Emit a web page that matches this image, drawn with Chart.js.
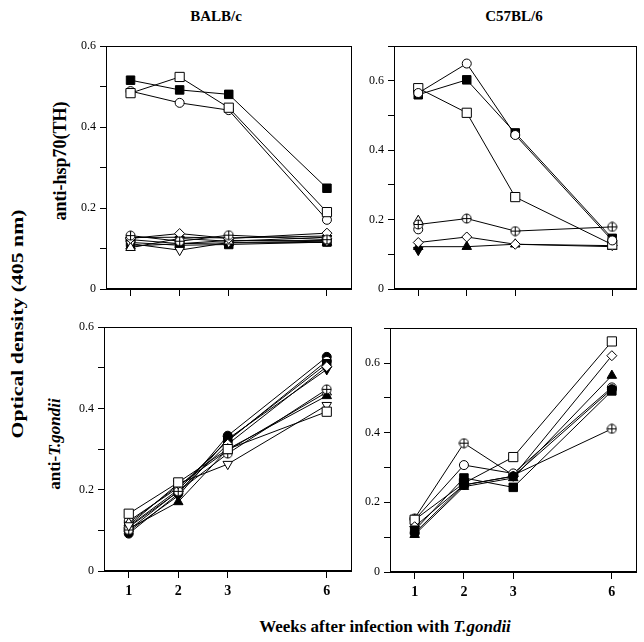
<!DOCTYPE html>
<html>
<head>
<meta charset="utf-8">
<script src="https://cdn.jsdelivr.net/npm/chart.js@4"></script>
<style>
body { margin:0; background:#fff; width:644px; height:642px; position:relative; overflow:hidden;
       font-family:"Liberation Serif","Times New Roman",serif; }
.lbl { position:absolute; font-weight:bold; white-space:nowrap; color:#000; }
.ctr { transform: translate(-50%,-50%); }
.rot { transform: translate(-50%,-50%) rotate(-90deg); }
canvas { position:absolute; }
</style>
</head>
<body>
<div class="lbl ctr" style="left:216px;top:16px;font-size:15px">BALB/c</div>
<div class="lbl ctr" style="left:514px;top:16px;font-size:15px">C57BL/6</div>
<div class="lbl rot" style="left:60px;top:161px;font-size:18px">anti-hsp70(TH)</div>
<div class="lbl rot" style="left:55px;top:444px;font-size:17px">anti-<i>T.gondii</i></div>
<div class="lbl" style="left:18px;top:324px;font-size:17px;transform:translate(-50%,-50%) rotate(-90deg) scaleX(1.28)">Optical density (405 nm)</div>
<div class="lbl ctr" style="left:385px;top:627px;font-size:17px">Weeks after infection with <i>T.gondii</i></div>
<script>
// weeks after infection (x axis); weeks 4-5 are not shown, so 6 sits one slot after 3
const weeks = [1, 2, 3, 6];

// BALB/c, anti-hsp70(TH)
const balbHspMarks = ['filledSquare', 'openSquare', 'openCircle', 'crossCircle', 'openDiamond',
    'openTriangle', 'invTriangle', 'filledSquare', 'filledCircle', 'filledTriangle', 'filledDiamond'];
const balbHspValues = [
    [0.516, 0.492, 0.481, 0.249],
    [0.484, 0.524, 0.448, 0.190],
    [0.489, 0.460, 0.442, 0.171],
    [0.132, 0.118, 0.133, 0.122],
    [0.125, 0.137, 0.125, 0.138],
    [0.102, 0.125, 0.118, 0.128],
    [0.112, 0.096, 0.115, 0.118],
    [0.115, 0.108, 0.110, 0.116],
    [0.122, 0.112, 0.120, 0.120],
    [0.106, 0.112, 0.114, 0.115],
    [0.127, 0.128, 0.126, 0.131]
];

// C57BL/6, anti-hsp70(TH)
const c57HspMarks = ['openCircle', 'filledSquare', 'openSquare', 'crossCircle', 'openDiamond',
    'filledTriangle', 'openTriangle', 'openCircle', 'filledInvTriangle'];
const c57HspValues = [
    [0.565, 0.650, 0.444, 0.140],
    [0.560, 0.603, 0.450, 0.146],
    [0.579, 0.508, 0.265, 0.128],
    [0.186, 0.203, 0.167, 0.179],
    [0.134, 0.150, 0.129, 0.125],
    [0.122, 0.122, 0.129, 0.122],
    [0.197, null, null, null],
    [0.172, null, null, null],
    [0.112, null, null, null]
];

// BALB/c, anti-T.gondii
const balbTgMarks = ['openSquare', 'invTriangle', 'crossCircle', 'filledTriangle', 'openTriangle',
    'openDiamond', 'filledInvTriangle', 'filledSquare', 'openCircle', 'filledCircle'];
const balbTgValues = [
    [0.141, 0.218, 0.300, 0.392],
    [0.112, 0.215, 0.263, 0.408],
    [0.101, 0.196, 0.289, 0.447],
    [0.104, 0.170, 0.300, 0.431],
    [0.118, 0.210, 0.297, 0.440],
    [0.108, 0.195, 0.312, 0.503],
    [0.098, 0.185, 0.325, 0.496],
    [0.110, 0.200, 0.322, 0.510],
    [0.123, 0.205, 0.320, 0.517],
    [0.092, 0.190, 0.333, 0.527]
];

// C57BL/6, anti-T.gondii
const c57TgMarks = ['filledCircle', 'filledSquare', 'filledTriangle', 'openDiamond', 'openSquare',
    'openCircle', 'crossCircle'];
const c57TgValues = [
    [0.112, 0.250, 0.275, 0.525],
    [0.120, 0.270, 0.243, 0.520],
    [0.107, 0.245, 0.270, 0.564],
    [0.130, 0.250, 0.275, 0.621],
    [0.150, 0.255, 0.330, 0.662],
    [0.150, 0.307, 0.283, 0.530],
    [0.154, 0.370, 0.278, 0.411]
];

const weekSlots = weeks.map(w => w <= 3 ? w : w - 1);

function crossCircle() {
    var c = document.createElement('canvas');
    c.width = c.height = 11;
    var g = c.getContext('2d');
    g.beginPath();
    g.arc(5.5, 5.5, 4.5, 0, 2 * Math.PI);
    g.fillStyle = '#fff';
    g.fill();
    g.strokeStyle = '#000';
    g.lineWidth = 1;
    g.stroke();
    g.beginPath();
    g.moveTo(5.5, 1); g.lineTo(5.5, 10);
    g.moveTo(1, 5.5); g.lineTo(10, 5.5);
    g.stroke();
    return c;
}

const markStyle = {
    filledSquare:      {style: 'rect', r: 6, fill: '#000'},
    openSquare:        {style: 'rect', r: 6.5, fill: '#fff'},
    openCircle:        {style: 'circle', r: 4.5, fill: '#fff'},
    filledCircle:      {style: 'circle', r: 4.5, fill: '#000'},
    openTriangle:      {style: 'triangle', r: 5.5, fill: '#fff'},
    filledTriangle:    {style: 'triangle', r: 5.5, fill: '#000'},
    invTriangle:       {style: 'triangle', r: 5.5, fill: '#fff', rot: 180},
    filledInvTriangle: {style: 'triangle', r: 5.5, fill: '#000', rot: 180},
    openDiamond:       {style: 'rectRot', r: 5, fill: '#fff'},
    filledDiamond:     {style: 'rectRot', r: 5, fill: '#000'},
    crossCircle:       {style: crossCircle(), r: 5, fill: '#fff'}
};

const framePlugin = {
    id: 'frame',
    afterDraw(chart) {
        var a = chart.chartArea, ctx = chart.ctx;
        ctx.save();
        ctx.strokeStyle = '#000';
        ctx.lineWidth = 1;
        ctx.strokeRect(Math.round(a.left) + 0.5, Math.round(a.top) + 0.5,
            Math.round(a.right - a.left) - 1, Math.round(a.bottom - a.top) - 1);
        ctx.restore();
    }
};

function makePanel(rect, yMax, showWeeks, marks, values) {
    var padL = 50, padT = 10, padR = 6, padB = 34;
    var cv = document.createElement('canvas');
    cv.width = rect.r - rect.l + padL + padR;
    cv.height = rect.b - rect.t + padT + padB;
    cv.style.left = (rect.l - padL) + 'px';
    cv.style.top = (rect.t - padT) + 'px';
    document.body.appendChild(cv);

    var datasets = marks.map(function(m, i) {
        var s = markStyle[m];
        return {
            label: m,
            data: values[i].map((v, j) => ({x: weekSlots[j], y: v})),
            borderColor: '#000',
            borderWidth: 1,
            pointStyle: s.style,
            pointRadius: s.r,
            pointRotation: s.rot || 0,
            pointBackgroundColor: s.fill,
            pointBorderColor: '#000',
            pointBorderWidth: 1,
            tension: 0
        };
    });

    new Chart(cv.getContext('2d'), {
        type: 'line',
        data: {datasets: datasets},
        plugins: [framePlugin],
        options: {
            responsive: false,
            animation: false,
            devicePixelRatio: 1,
            layout: {padding: {top: padT, right: padR, left: 0, bottom: 0}},
            plugins: {legend: {display: false}, tooltip: {enabled: false}},
            scales: {
                x: {
                    type: 'linear', min: 0.5, max: 5.5,
                    afterBuildTicks: axis => { axis.ticks = weekSlots.map(v => ({value: v})); },
                    afterFit: axis => { axis.height = padB; },
                    grid: {drawOnChartArea: false, drawTicks: true, tickLength: 7, color: '#000'},
                    border: {color: '#000'},
                    ticks: {
                        autoSkip: false, maxRotation: 0, padding: 5, color: '#000',
                        font: {family: '"Liberation Serif", serif', size: 14, weight: 'bold'},
                        callback: v => showWeeks ? String(weeks[weekSlots.indexOf(v)]) : ''
                    }
                },
                y: {
                    min: 0, max: yMax,
                    afterFit: axis => { axis.width = padL; },
                    grid: {drawOnChartArea: false, drawTicks: true, tickLength: 6, color: '#000'},
                    border: {color: '#000'},
                    ticks: {
                        stepSize: 0.1, autoSkip: false, padding: 4, color: '#000',
                        font: {family: '"Liberation Serif", serif', size: 12},
                        callback: function(v) {
                            var k = Math.round(v * 10);
                            if (k % 2) return '';
                            return k === 0 ? '0' : (k / 10).toFixed(1);
                        }
                    }
                }
            }
        }
    });
}

makePanel({l: 106, r: 353, t: 45, b: 289}, 0.6, false, balbHspMarks, balbHspValues);
makePanel({l: 394, r: 638, t: 45, b: 289}, 0.7, false, c57HspMarks, c57HspValues);
makePanel({l: 104, r: 353, t: 326, b: 571}, 0.6, true, balbTgMarks, balbTgValues);
makePanel({l: 390, r: 638, t: 327, b: 572}, 0.7, true, c57TgMarks, c57TgValues);
</script>
</body>
</html>
